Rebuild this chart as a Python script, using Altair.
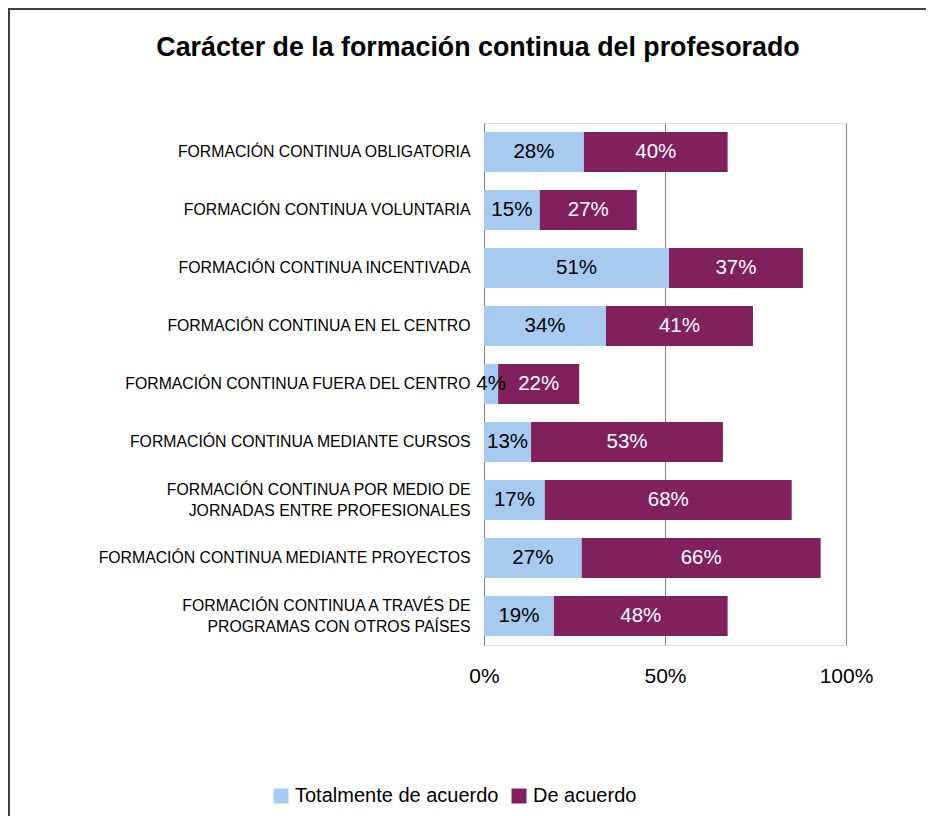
import altair as alt
import pandas as pd

chart_title = "Carácter de la formación continua del profesorado"
categories = [
    "FORMACIÓN CONTINUA OBLIGATORIA",
    "FORMACIÓN CONTINUA VOLUNTARIA",
    "FORMACIÓN CONTINUA INCENTIVADA",
    "FORMACIÓN CONTINUA EN EL CENTRO",
    "FORMACIÓN CONTINUA FUERA DEL CENTRO",
    "FORMACIÓN CONTINUA MEDIANTE CURSOS",
    "FORMACIÓN CONTINUA POR MEDIO DE\nJORNADAS ENTRE PROFESIONALES",
    "FORMACIÓN CONTINUA MEDIANTE PROYECTOS",
    "FORMACIÓN CONTINUA A TRAVÉS DE\nPROGRAMAS CON OTROS PAÍSES",
]
totalmente = [27.6, 15.4, 51.1, 33.7, 3.9, 13.0, 16.8, 27.0, 19.3]
de_acuerdo = [39.7, 26.8, 37.0, 40.6, 22.4, 53.0, 68.2, 66.0, 48.0]
series = ["Totalmente de acuerdo", "De acuerdo"]
colors = ["#A7CAF0", "#80205D"]
text_colors = ["#000000", "#FFFFFF"]
x_ticks = [0, 50, 100]

rows = []
for i, cat in enumerate(categories):
    start = 0.0
    for s_idx, vals in enumerate([totalmente, de_acuerdo]):
        v = vals[i]
        rows.append({
            "cat": cat,
            "series": series[s_idx],
            "order": s_idx,
            "value": v,
            "start": start,
            "end": start + v,
            "mid": start + v / 2,
            "label": f"{int(v + 0.5)}%",
            "tcolor": text_colors[s_idx],
        })
        start += v
df = pd.DataFrame(rows)

FONT = "Liberation Sans"

y_enc = alt.Y(
    "cat:N",
    sort=categories,
    title=None,
    scale=alt.Scale(paddingInner=0.31, paddingOuter=0.155),
    axis=alt.Axis(
        labelExpr="split(datum.label, '\\n')",
        labelFontSize=15.8,
        labelFont=FONT,
        labelColor="#000000",
        labelPadding=14,
        labelLimit=0,
        labelLineHeight=21,
        labelOffset={"expr": "indexof(datum.value, '\\n') >= 0 ? -10 : 0"},
        ticks=False,
        domainColor="#868686",
        domainWidth=1,
        grid=False,
    ),
)

x_scale = alt.Scale(domain=[0, 100], nice=False)

bars = alt.Chart(df).mark_bar(size=40).encode(
    x=alt.X(
        "start:Q",
        scale=x_scale,
        title=None,
        axis=alt.Axis(
            values=x_ticks,
            labelExpr="datum.value + '%'",
            labelFontSize=21,
            labelFont=FONT,
            labelColor="#000000",
            labelPadding=20,
            labelFlush=False,
            domain=False,
            ticks=False,
            grid=True,
            gridColor="#868686",
            gridWidth=1,
        ),
    ),
    x2="end:Q",
    y=y_enc,
    color=alt.Color(
        "series:N",
        scale=alt.Scale(domain=series, range=colors),
        legend=alt.Legend(
            title=None,
            orient="none",
            direction="horizontal",
            legendX=-213,
            legendY=663,
            symbolType="square",
            symbolSize=225,
            symbolStrokeWidth=0,
            labelFontSize=20,
            labelFont=FONT,
            labelColor="#000000",
            labelOffset=4,
            labelLimit=0,
            columnPadding=10,
        ),
    ),
    order=alt.Order("order:Q"),
)

texts = alt.Chart(df).mark_text(fontSize=20.5, font=FONT, baseline="middle", align="center").encode(
    x=alt.X("mid:Q", scale=x_scale),
    y=alt.Y("cat:N", sort=categories),
    text="label:N",
    color=alt.Color("tcolor:N", scale=None, legend=None),
)

title_df = pd.DataFrame({"t": [chart_title]})
title_mark = alt.Chart(title_df).mark_text(
    fontSize=26.8, font=FONT, fontWeight="bold", color="#000000",
    align="center", baseline="alphabetic",
).encode(x=alt.value(-6), y=alt.value(-67), text="t:N")

frame_df = pd.DataFrame({"k": [0]})
left_border = alt.Chart(frame_df).mark_rule(color="#404040", strokeWidth=2).encode(
    x=alt.value(-475), y=alt.value(-115), y2=alt.value(700)
)
top_border = alt.Chart(frame_df).mark_rule(color="#404040", strokeWidth=2).encode(
    x=alt.value(-476), x2=alt.value(480), y=alt.value(-114)
)

chart = alt.layer(bars, texts, title_mark, left_border, top_border).properties(
    width=362,
    height=522,
    autosize=alt.AutoSizeParams(type="none"),
    padding={"left": 476, "top": 115, "right": 80, "bottom": 175},
).configure_view(stroke=None).configure(background="white")

chart.save("out.html", embed_options={"renderer": "svg", "actions": False})
